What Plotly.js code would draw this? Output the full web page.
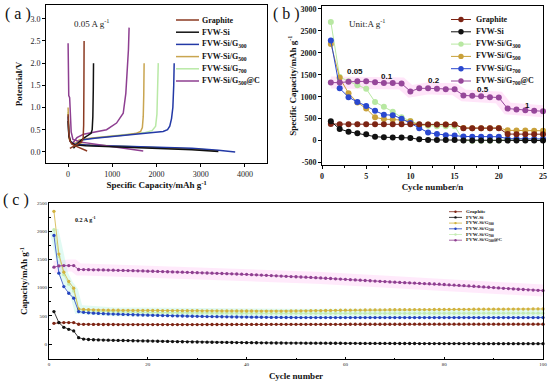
<!DOCTYPE html>
<html><head><meta charset="utf-8">
<script src="https://cdn.plot.ly/plotly-3.0.1.min.js"></script>
<style>html,body{margin:0;padding:0;background:#fff}#chart{width:550px;height:385px}</style>
</head><body><div id="chart"></div>
<script>
// ================= Panel (a): charge/discharge voltage profiles =================
const namesA = ['Graphite','FVW-Si','FVW-Si/G<sub>300</sub>','FVW-Si/G<sub>500</sub>','FVW-Si/G<sub>700</sub>','FVW-Si/G<sub>500</sub>@C'];
const colorsA = ['#8b3a22','#111111','#2339a6','#c9a550','#b9e9a6','#8e3f91'];

const graphiteDisCap = [0, 15, 40, 80, 150, 250, 350, 430];
const graphiteDisV   = [0.85, 0.45, 0.25, 0.18, 0.14, 0.10, 0.06, 0.02];
const graphiteChCap  = [40, 120, 220, 300, 340, 352, 358, 362];
const graphiteChV    = [0.08, 0.12, 0.17, 0.22, 0.30, 0.60, 1.50, 2.50];

const siDisCap = [0, 20, 60, 150, 400, 1000, 2000, 2800, 3400];
const siDisV   = [0.70, 0.35, 0.22, 0.16, 0.14, 0.12, 0.08, 0.05, 0.01];
const siChCap  = [120, 250, 380, 470, 520, 545, 560, 570, 575];
const siChV    = [0.08, 0.22, 0.33, 0.38, 0.42, 0.50, 0.80, 1.40, 2.00];

const g300DisCap = [0, 15, 50, 150, 500, 1200, 2000, 2800, 3400, 3780];
const g300DisV   = [0.80, 0.40, 0.24, 0.17, 0.15, 0.13, 0.11, 0.08, 0.04, 0.00];
const g300ChCap  = [150, 300, 600, 1000, 1500, 1900, 2150, 2250, 2300, 2340, 2370, 2390, 2400];
const g300ChV    = [0.15, 0.27, 0.31, 0.35, 0.40, 0.43, 0.46, 0.50, 0.58, 0.75, 1.00, 1.50, 2.00];

const g500DisCap = [0, 5, 20, 60, 200, 600, 1500, 2500, 3100, 3380];
const g500DisV   = [1.00, 0.60, 0.30, 0.22, 0.18, 0.15, 0.12, 0.08, 0.05, 0.02];
const g500ChCap  = [120, 250, 500, 900, 1300, 1550, 1640, 1680, 1700, 1712, 1720];
const g500ChV    = [0.15, 0.27, 0.31, 0.34, 0.38, 0.42, 0.46, 0.55, 0.80, 1.30, 2.00];

const g700DisCap = [0, 10, 40, 120, 400, 1200, 2200, 3000, 3300];
const g700DisV   = [0.90, 0.45, 0.26, 0.19, 0.16, 0.13, 0.10, 0.06, 0.03];
const g700ChCap  = [130, 280, 600, 1000, 1400, 1750, 1900, 1980, 2010, 2030, 2040];
const g700ChV    = [0.15, 0.27, 0.32, 0.36, 0.40, 0.44, 0.48, 0.58, 0.85, 1.40, 2.00];

const g500cDisCap = [0, 2, 5, 15, 35, 50, 70, 110, 300, 700, 1200, 1700];
const g500cDisV   = [2.45, 1.90, 1.35, 1.27, 1.22, 0.90, 0.45, 0.28, 0.22, 0.16, 0.09, 0.02];
const g500cChCap  = [90, 200, 350, 533, 870, 1096, 1247, 1306, 1340, 1365, 1380];
const g500cChV    = [0.18, 0.32, 0.40, 0.44, 0.50, 0.65, 0.87, 1.32, 1.80, 2.30, 2.80];

// ================= Panel (b): rate performance =================
const namesB = ['Graphite','FVW-Si','FVW-Si/G<sub>300</sub>','FVW-Si/G<sub>500</sub>','FVW-Si/G<sub>700</sub>','FVW-Si/G<sub>700</sub>@C'];
const colorsB = ['#7d2414','#111111','#b8e8a2','#c9a13a','#2a48cf','#96479a'];
const cyclesB = [1,2,3,4,5,6,7,8,9,10,11,12,13,14,15,16,17,18,19,20,21,22,23,24,25];
const graphiteB = [380, 375, 375, 375, 375, 372, 372, 372, 372, 372, 372, 370, 370, 370, 370, 285, 285, 285, 285, 285, 150, 148, 148, 147, 147];
const siB       = [440, 265, 205, 167, 144, 91, 78, 70, 70, 62, 30, 18, 16, 15, 15, 5, 5, 4, 4, 4, 2, 2, 2, 2, 2];
const g300B     = [2700, 1450, 1350, 1260, 1180, 880, 770, 660, 530, 450, 370, 340, 330, 330, 330, 10, 0, 0, 0, 5, 25, 25, 22, 22, 20];
const g500B     = [2200, 1430, 1080, 870, 730, 530, 490, 480, 470, 440, 350, 365, 365, 365, 365, 290, 285, 285, 285, 290, 235, 232, 230, 228, 225];
const g700B     = [2280, 1190, 990, 880, 790, 680, 590, 580, 500, 400, 285, 185, 150, 125, 115, 95, 92, 92, 90, 90, 45, 42, 40, 40, 40];
const g700cB    = [1320, 1320, 1340, 1350, 1350, 1330, 1310, 1310, 1300, 1120, 1190, 1190, 1180, 1170, 1170, 1030, 1020, 1010, 990, 980, 730, 710, 690, 680, 670];
const rateLabels = ['0.05','0.1','0.2','0.5','1'];
const rateLabelX = [3.7, 7.3, 12.7, 18.2, 23.2];
const rateLabelY = [1570, 1470, 1360, 1170, 810];

// ================= Panel (c): cycling at 0.2 A/g =================
const namesC = ['Graphite','FVW-Si','FVW-Si/G<sub>300</sub>','FVW-Si/G<sub>500</sub>','FVW-Si/G<sub>700</sub>','FVW-Si/G<sub>500</sub>@C'];
const colorsC = ['#7d2414','#111111','#d2b23e','#2544c0','#c4ecb2','#8f3f91'];
const cyclesC = Array.from({length: 100}, (_, i) => i + 1);
const graphiteC = [367,379,379,379,379,350,349,348,347,347,346,346,346,345,345,345,345,344,344,344,
  344,344,344,344,345,345,345,345,345,345,345,346,346,346,346,346,346,347,347,347,
  347,347,347,347,348,348,348,348,348,348,348,348,349,349,349,349,349,349,349,349,
  350,350,350,350,350,350,350,350,350,350,350,350,351,351,351,351,351,351,351,351,
  351,351,351,351,352,352,352,352,352,352,352,352,352,352,352,352,352,352,352,352];
const siC = [575,379,296,261,231,112,88,80,75,72,70,68,66,64,62,60,58,56,54,53,
  51,49,47,45,43,41,40,38,37,35,34,33,31,30,29,28,27,26,25,24,
  23,22,21,20,19,18,18,17,17,16,16,15,15,14,14,14,13,13,13,12,
  12,12,11,11,11,10,10,10,10,9,9,9,9,9,8,8,8,8,8,8,
  7,7,7,7,7,7,6,6,6,6,6,6,6,5,5,5,5,5,5,5];
const g300C = [2352,1594,1274,1108,989,622,612,607,604,602,601,600,599,598,597,597,596,596,595,595,
  594,594,593,593,592,592,591,591,590,590,589,589,588,588,587,587,586,586,585,585,
  585,584,584,584,583,583,583,584,585,586,588,589,590,592,593,594,595,597,598,599,
  600,601,602,603,604,605,605,606,607,607,608,609,609,610,610,611,611,612,612,613,
  613,614,614,615,615,616,616,617,617,618,618,618,619,619,620,620,620,621,621,622];
const g500C = [1925,1256,1019,900,812,575,561,553,547,542,538,534,531,528,525,522,519,516,513,511,
  509,506,504,502,500,498,496,494,492,490,489,487,486,484,483,482,480,479,478,477,
  476,475,474,473,472,471,471,470,470,469,469,469,468,468,468,468,468,468,468,468,
  468,468,468,468,468,468,468,468,468,468,468,468,468,468,468,468,468,468,468,468,
  468,468,468,468,468,468,468,468,468,468,468,468,468,468,468,468,468,468,468,468];
const g700C = [2026,1550,1230,1060,940,610,598,590,585,581,578,575,572,570,568,566,564,562,560,559,
  558,557,556,555,554,553,552,551,550,549,548,548,547,547,546,546,545,545,545,544,
  544,544,544,543,543,543,543,543,543,543,543,543,543,543,543,543,543,543,543,543,
  543,543,543,543,544,544,544,544,544,544,544,544,544,544,545,545,545,545,545,545,
  545,545,545,545,545,545,546,546,546,546,546,546,546,546,546,546,546,546,546,546];
const g500cC = [1363,1385,1390,1390,1390,1321,1320,1318,1316,1315,1313,1311,1309,1306,1304,1302,1300,1298,1295,1292,
  1290,1287,1284,1281,1278,1276,1273,1270,1268,1265,1262,1259,1256,1253,1250,1247,1244,1241,1238,1235,
  1230,1226,1222,1218,1214,1208,1204,1200,1196,1192,1188,1184,1180,1176,1171,1166,1161,1156,1151,1146,
  1141,1136,1131,1126,1121,1116,1111,1106,1101,1096,1092,1088,1084,1080,1076,1072,1068,1064,1060,1055,
  1050,1045,1040,1035,1030,1024,1018,1012,1006,1000,994,988,982,976,971,966,961,956,952,948];

// ================= Build =================
const W = 550, H = 385;
const FF = 'Liberation Serif, Times New Roman, serif';
const px = v => v / W, py = v => 1 - v / H;
const traces = [];

function profile(dc, dv, cc, cv, color) {
  return {x: dc.concat([null], cc), y: dv.concat([null], cv), xaxis: 'x', yaxis: 'y',
    mode: 'lines', line: {color: color, width: 1.5}, connectgaps: false, showlegend: false, hoverinfo: 'skip'};
}
traces.push(profile(g700DisCap, g700DisV, g700ChCap, g700ChV, colorsA[4]));
traces.push(profile(g500DisCap, g500DisV, g500ChCap, g500ChV, colorsA[3]));
traces.push(profile(g300DisCap, g300DisV, g300ChCap, g300ChV, colorsA[2]));
traces.push(profile(g500cDisCap, g500cDisV, g500cChCap, g500cChV, colorsA[5]));
traces.push(profile(siDisCap, siDisV, siChCap, siChV, colorsA[1]));
traces.push(profile(graphiteDisCap, graphiteDisV, graphiteChCap, graphiteChV, colorsA[0]));

// panel (b) glow band under purple
traces.push({x: cyclesB, y: g700cB, xaxis: 'x2', yaxis: 'y2', mode: 'lines',
  line: {color: 'rgba(255,160,235,0.28)', width: 12}, showlegend: false, hoverinfo: 'skip'});
const seriesB = [g300B, g500B, g700B, graphiteB, siB, g700cB];
const colIdxB = [2, 3, 4, 0, 1, 5];
seriesB.forEach((s, k) => traces.push({x: cyclesB, y: s, xaxis: 'x2', yaxis: 'y2', mode: 'lines+markers',
  line: {color: colorsB[colIdxB[k]], width: 1}, marker: {color: colorsB[colIdxB[k]], size: 6},
  showlegend: false, cliponaxis: false}));

// panel (c) glow bands
traces.push({x: cyclesC, y: g500cC, xaxis: 'x3', yaxis: 'y3', mode: 'lines',
  line: {color: 'rgba(255,160,235,0.22)', width: 12}, showlegend: false, hoverinfo: 'skip'});
traces.push({x: cyclesC, y: g700C, xaxis: 'x3', yaxis: 'y3', mode: 'lines',
  line: {color: 'rgba(170,240,220,0.35)', width: 9}, showlegend: false, hoverinfo: 'skip'});
const seriesC = [g700C, g300C, g500C, graphiteC, siC, g500cC];
const colIdxC = [4, 2, 3, 0, 1, 5];
seriesC.forEach((s, k) => traces.push({x: cyclesC, y: s, xaxis: 'x3', yaxis: 'y3', mode: 'lines+markers',
  line: {color: colorsC[colIdxC[k]], width: 0.8}, marker: {color: colorsC[colIdxC[k]], size: 3.3},
  showlegend: false, cliponaxis: false}));

// ---- manual compact legends ----
const shapes = [], annotations = [];
function legend(names, colors, x0, x1, xt, y0, dy, fs, ms, lw) {
  names.forEach((n, i) => {
    const y = y0 + i * dy;
    shapes.push({type: 'line', xref: 'paper', yref: 'paper', x0: px(x0), x1: px(x1), y0: py(y), y1: py(y),
      line: {color: colors[i], width: lw}});
    if (ms) {
      const xc = (x0 + x1) / 2;
      shapes.push({type: 'circle', xref: 'paper', yref: 'paper', x0: px(xc - ms), x1: px(xc + ms),
        y0: py(y + ms), y1: py(y - ms), fillcolor: colors[i], line: {color: colors[i], width: 0}});
    }
    annotations.push({xref: 'paper', yref: 'paper', x: px(xt), y: py(y), xanchor: 'left', yanchor: 'middle',
      text: '<b>' + n + '</b>', showarrow: false, font: {family: FF, size: fs, color: '#111'}});
  });
}
legend(namesA, colorsA, 176, 199, 200, 20, 12.2, 8, 0, 1.5);
legend(namesB, colorsB, 451, 471, 474, 19.5, 12.3, 8, 2.7, 1);
legend(namesC, colorsC, 449, 462, 464, 211.7, 5.7, 5, 1.2, 0.8);

// panel labels
[['( a )', 3, 14], ['( b )', 271, 14], ['( c )', 1, 200]].forEach(p => annotations.push({
  xref: 'paper', yref: 'paper', x: px(p[1]), y: py(p[2]), xanchor: 'left', yanchor: 'middle',
  text: p[0], showarrow: false, font: {family: FF, size: 16, color: '#111'}}));

annotations.push({xref: 'x', yref: 'y', x: 530, y: 2.9, text: '0.05 A g<sup>-1</sup>', showarrow: false,
  font: {family: FF, size: 9, color: '#222'}});
annotations.push({xref: 'x2', yref: 'y2', x: 5.1, y: 2680, text: 'Unit:A g<sup>-1</sup>', showarrow: false,
  font: {family: FF, size: 9, color: '#222'}});
rateLabels.forEach((t, i) => annotations.push({xref: 'x2', yref: 'y2', x: rateLabelX[i], y: rateLabelY[i],
  text: '<b>' + t + '</b>', showarrow: false, font: {family: 'Liberation Sans, Arial, sans-serif', size: 8, color: '#111'}}));
annotations.push({xref: 'x3', yref: 'y3', x: 7.4, y: 2210, text: '<b>0.2 A g<sup>-1</sup></b>', showarrow: false,
  font: {family: FF, size: 6, color: '#111'}});

const axBase = {showline: true, mirror: true, linecolor: '#000', linewidth: 1, showgrid: false, zeroline: false,
  ticks: 'outside', ticklen: 3, tickcolor: '#000', automargin: false};
const titleFont = {family: FF, size: 9, color: '#111'};

const layout = {
  width: W, height: H, margin: {l: 0, r: 0, t: 0, b: 0}, paper_bgcolor: '#fff', plot_bgcolor: '#fff',
  showlegend: false, shapes: shapes, annotations: annotations,
  xaxis: Object.assign({}, axBase, {domain: [px(46), px(267)], range: [-500, 4500], tickvals: [0, 1000, 2000, 3000, 4000],
    anchor: 'y', tickfont: {family: FF, size: 8, color: '#222'},
    title: {text: '<b>Specific Capacity/mAh g<sup>-1</sup></b>', font: titleFont, standoff: 3}}),
  yaxis: Object.assign({}, axBase, {domain: [py(163), py(5)], range: [-0.25, 3.31], tickvals: [0, 0.5, 1, 1.5, 2, 2.5, 3],
    tickformat: '.1f', anchor: 'x', tickfont: {family: FF, size: 8, color: '#222'},
    title: {text: '<b>Potencial/V</b>', font: titleFont, standoff: 6}}),
  xaxis2: Object.assign({}, axBase, {domain: [px(322), px(543)], range: [0, 25], tickvals: [0, 5, 10, 15, 20, 25],
    ticktext: ['<b>0</b>','<b>5</b>','<b>10</b>','<b>15</b>','<b>20</b>','<b>25</b>'],
    anchor: 'y2', tickfont: {family: FF, size: 8, color: '#222'},
    minor: {dtick: 2.5, ticks: 'outside', ticklen: 2},
    title: {text: '<b>Cycle number/n</b>', font: titleFont, standoff: 3}}),
  yaxis2: Object.assign({}, axBase, {domain: [py(165.3), py(6.1)], range: [-560, 3060], tickvals: [-500, 0, 500, 1000, 1500, 2000, 2500, 3000],
    ticktext: ['<b>-500</b>','<b>0</b>','<b>500</b>','<b>1000</b>','<b>1500</b>','<b>2000</b>','<b>2500</b>','<b>3000</b>'],
    anchor: 'x2', tickfont: {family: FF, size: 8, color: '#222'},
    title: {text: '<b>Specific Capacity/mAh g<sup>-1</sup></b>', font: titleFont, standoff: 2}}),
  xaxis3: Object.assign({}, axBase, {domain: [px(49), px(543)], range: [0, 100], tickvals: [0, 20, 40, 60, 80, 100],
    anchor: 'y3', ticks: 'inside', ticklen: 2.5, tickfont: {family: FF, size: 5, color: '#222'},
    minor: {dtick: 10, ticks: 'inside', ticklen: 1.5},
    title: {text: '<b>Cycle number</b>', font: titleFont, standoff: 6}}),
  yaxis3: Object.assign({}, axBase, {domain: [py(359), py(203)], range: [-266, 2500], tickvals: [0, 500, 1000, 1500, 2000, 2500],
    anchor: 'x3', ticks: 'inside', ticklen: 2.5, tickfont: {family: FF, size: 5, color: '#222'},
    minor: {dtick: 250, ticks: 'inside', ticklen: 1.5},
    title: {text: '<b>Capacity/mAh g<sup>-1</sup></b>', font: titleFont, standoff: 7}})
};

Plotly.newPlot('chart', traces, layout, {displayModeBar: false});
</script></body></html>
